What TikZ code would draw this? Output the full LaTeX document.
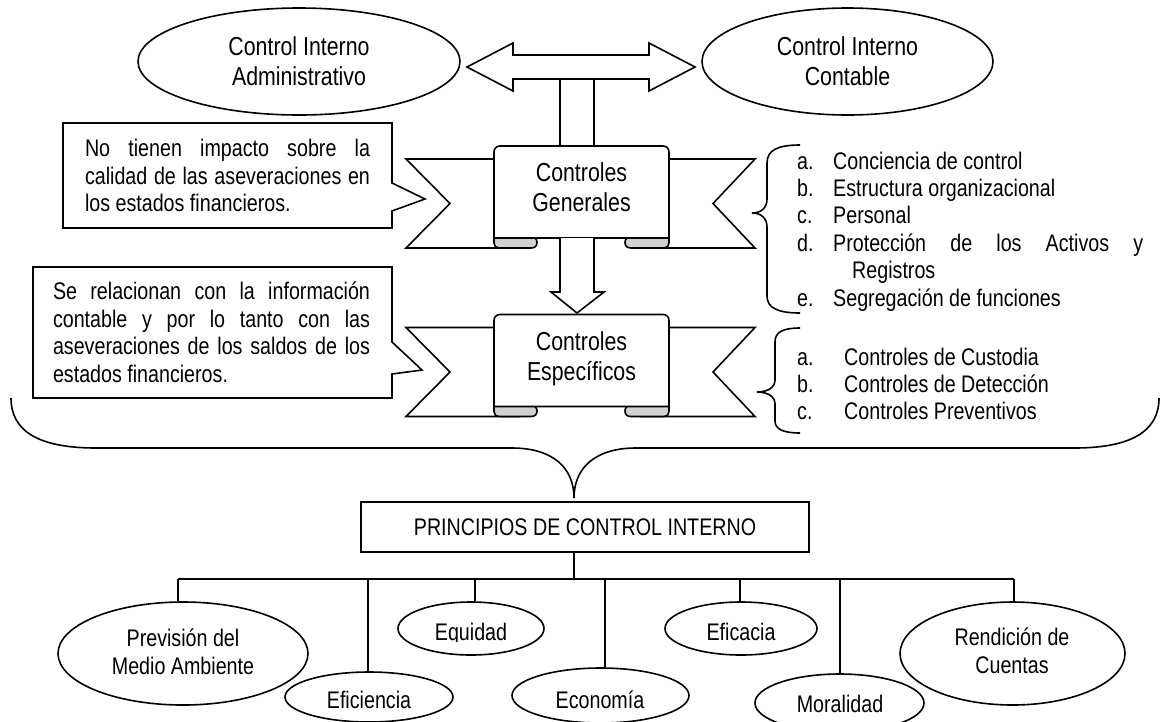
\documentclass[tikz,border=0pt]{standalone}
\usepackage{fontspec}
\setmainfont{Liberation Sans}[FakeStretch=0.82]
\usetikzlibrary{shapes.geometric}
\definecolor{foldgray}{gray}{0.82}
\tikzset{
  ln/.style={line width=1.6pt, line join=miter},
  ell/.style={draw, ln, ellipse, inner sep=0pt},
  bigtxt/.style={font=\fontsize{26pt}{30pt}\selectfont, align=center, inner sep=0pt},
  txt/.style={font=\fontsize{24pt}{27.5pt}\selectfont, inner sep=0pt},
}
% banner with two notched tails, rolled ends and a central panel
% #1 vertical offset, #2 node name, #3 text centre y, #4 text
\newcommand\ribbonshape[4]{%
  \begin{scope}[yshift=-#1pt]
    \draw[ln] (494,159) -- (406,159) -- (450,203.5) -- (406,248) -- (520,248);
    \draw[ln] (669,159) -- (755,159) -- (713,203.5) -- (755,248) -- (640,248);
    \draw[ln, fill=foldgray] (494,230) -- (494,243) .. controls (494,246) and (496,248) .. (499,248)
      -- (531,248) .. controls (535,248) and (537,246) .. (537,242.5)
      .. controls (537,239) and (535,237) .. (531,237) -- (531,230);
    \draw[ln, fill=foldgray] (669,230) -- (669,243) .. controls (669,246) and (667,248) .. (664,248)
      -- (631,248) .. controls (627,248) and (625,246) .. (625,242.5)
      .. controls (625,239) and (627,237) .. (631,237) -- (631,230);
    \draw[ln, fill=white] (494,238) -- (494,152) .. controls (494,148.5) and (496.5,146) .. (500,146)
      -- (663,146) .. controls (666.5,146) and (669,148.5) .. (669,152) -- (669,238) -- cycle;
    \node[bigtxt] (#2) at (581.5,#3) {#4};
  \end{scope}}
\begin{document}
\begin{tikzpicture}[x=1pt,y=-1pt]
\useasboundingbox (0,0) rectangle (1161,721);
\clip (0,0) rectangle (1161,721);

% top: the two kinds of internal control
\node[ell, bigtxt, minimum width=322pt, minimum height=107pt] (cia) at (299,61.5) {Control Interno\\Administrativo};
\node[ell, bigtxt, minimum width=291pt, minimum height=107pt] (cic) at (847.5,61.5) {Control Interno\\Contable};

% double block arrow between them
\draw[ln] (467,67) -- (513,43) -- (513,55) -- (649,55) -- (649,43) -- (695,67)
  -- (649,91) -- (649,79) -- (513,79) -- (513,91) -- cycle;
\draw[ln] (560,79) -- (560,146);
\draw[ln] (594,79) -- (594,146);

% banners
\ribbonshape{0}{gen}{187.5}{Controles\\Generales}
\ribbonshape{168.5}{esp}{190}{Controles\\Específicos}

% block arrow from general to specific controls
\draw[ln, fill=white] (560,238) -- (560,292) -- (551,292) -- (577,313) -- (604,292) -- (594,292) -- (594,238);

% callouts
\draw[ln] (63,123) -- (392,123) -- (392,183) -- (425,199) -- (392,211) -- (392,228) -- (63,228) -- cycle;
\node[txt, align=left] (note1) at (227.5,175.5) {%
  \makebox[285pt][s]{No tienen impacto sobre la}\\
  \makebox[285pt][s]{calidad de las aseveraciones en}\\
  \makebox[285pt][l]{los estados financieros.}};
\draw[ln] (33,267) -- (392,267) -- (392,342) -- (422,370) -- (392,374) -- (392,398) -- (33,398) -- cycle;
\node[txt, align=left] (note2) at (211.5,332.5) {%
  \makebox[317pt][s]{Se relacionan con la información}\\
  \makebox[317pt][s]{contable y por lo tanto con las}\\
  \makebox[317pt][s]{aseveraciones de los saldos de los}\\
  \makebox[317pt][l]{estados financieros.}};

% list of general controls
\draw[ln] (800,145) .. controls (778,145) and (767,150) .. (767,163) -- (767,199)
  .. controls (767,208) and (761,213) .. (752,213) .. controls (761,213) and (767,218) .. (767,227)
  -- (767,296) .. controls (767,308) and (778,313) .. (800,313);
\node[txt, anchor=base west] (ga) at (797,169) {a.};
\node[txt, anchor=base west] (gat) at (833,169) {Conciencia de control};
\node[txt, anchor=base west] (gb) at (797,196.4) {b.};
\node[txt, anchor=base west] (gbt) at (833,196.4) {Estructura organizacional};
\node[txt, anchor=base west] (gc) at (797,223.8) {c.};
\node[txt, anchor=base west] (gct) at (833,223.8) {Personal};
\node[txt, anchor=base west] (gd) at (797,251.2) {d.};
\node[txt, anchor=base west] (gdt) at (833,251.2) {\makebox[310pt][s]{Protección de los Activos y}};
\node[txt, anchor=base west] (gdt2) at (852,278.6) {Registros};
\node[txt, anchor=base west] (ge) at (797,306) {e.};
\node[txt, anchor=base west] (get) at (833,306) {Segregación de funciones};

% list of specific controls
\draw[ln] (800,328) .. controls (783,328) and (775,332) .. (775,342) -- (775,380)
  .. controls (775,388) and (767,392) .. (757,392) .. controls (767,392) and (775,396) .. (775,404)
  -- (775,421) .. controls (775,429) and (783,433) .. (800,433);
\node[txt, anchor=base west] (sa) at (797,365) {a.};
\node[txt, anchor=base west] (sat) at (844,365) {Controles de Custodia};
\node[txt, anchor=base west] (sb) at (797,392) {b.};
\node[txt, anchor=base west] (sbt) at (844,392) {Controles de Detección};
\node[txt, anchor=base west] (sc) at (797,419) {c.};
\node[txt, anchor=base west] (sct) at (844,419) {Controles Preventivos};

% principles box and the brace that gathers everything above
\node[draw, ln, txt, minimum width=448pt, minimum height=50pt] (prin) at (585,527) {PRINCIPIOS DE CONTROL INTERNO};
\coordinate (cusp) at (574,498);
\draw[ln] (11,398) .. controls (11,432) and (40,448) .. (96,448) -- (512,448)
  .. controls (553,448) and (574,468) .. (cusp)
  .. controls (574,468) and (595,448) .. (636,448) -- (1074,448)
  .. controls (1130,448) and (1159,432) .. (1159,398);

% principles
\node[ell, minimum width=250pt, minimum height=103pt] (prev) at (183,653.5) {};
\node[ell, minimum width=168pt, minimum height=50pt] (efic) at (369,697) {};
\node[ell, minimum width=146pt, minimum height=53pt] (equi) at (471,628.5) {};
\node[ell, minimum width=177pt, minimum height=55pt] (econ) at (600.5,695.5) {};
\node[ell, minimum width=152pt, minimum height=53pt] (efica) at (741,628.5) {};
\node[ell, minimum width=169pt, minimum height=58pt] (mora) at (839.5,703) {};
\node[ell, minimum width=225pt, minimum height=103pt] (rend) at (1012.5,653.5) {};

\node[txt, align=center] (prevt) at (183,652) {Previsión del\\Medio Ambiente};
\node[txt, anchor=base] (efict) at (369,708) {Eficiencia};
\begin{scope}
  \clip (430,600) rectangle (512,641);
  \node[txt, anchor=base] (equit) at (471,640) {Equidad};
\end{scope}
\node[txt, anchor=base] (econt) at (600,708) {Economía};
\node[txt, anchor=base] (eficat) at (741,640) {Eficacia};
\node[txt, anchor=base] (morat) at (840,712) {Moralidad};
\node[txt, align=center] (rendt) at (1012,651) {Rendición de\\Cuentas};

% tree connectors
\coordinate (bus) at (574,579);
\coordinate (b1) at (178,579);
\coordinate (b2) at (368,579);
\coordinate (b3) at (475,579);
\coordinate (b4) at (605,579);
\coordinate (b5) at (740,579);
\coordinate (b6) at (840,579);
\coordinate (b7) at (1014,579);
\draw[ln] (prin.south -| bus) -- (bus);
\draw[ln] (b1) -- (b7);
\foreach \b/\e in {b1/prev, b2/efic, b3/equi, b4/econ, b5/efica, b6/mora, b7/rend}
  \draw[ln] (\b) -- (\b |- \e.north);
\end{tikzpicture}
\end{document}
